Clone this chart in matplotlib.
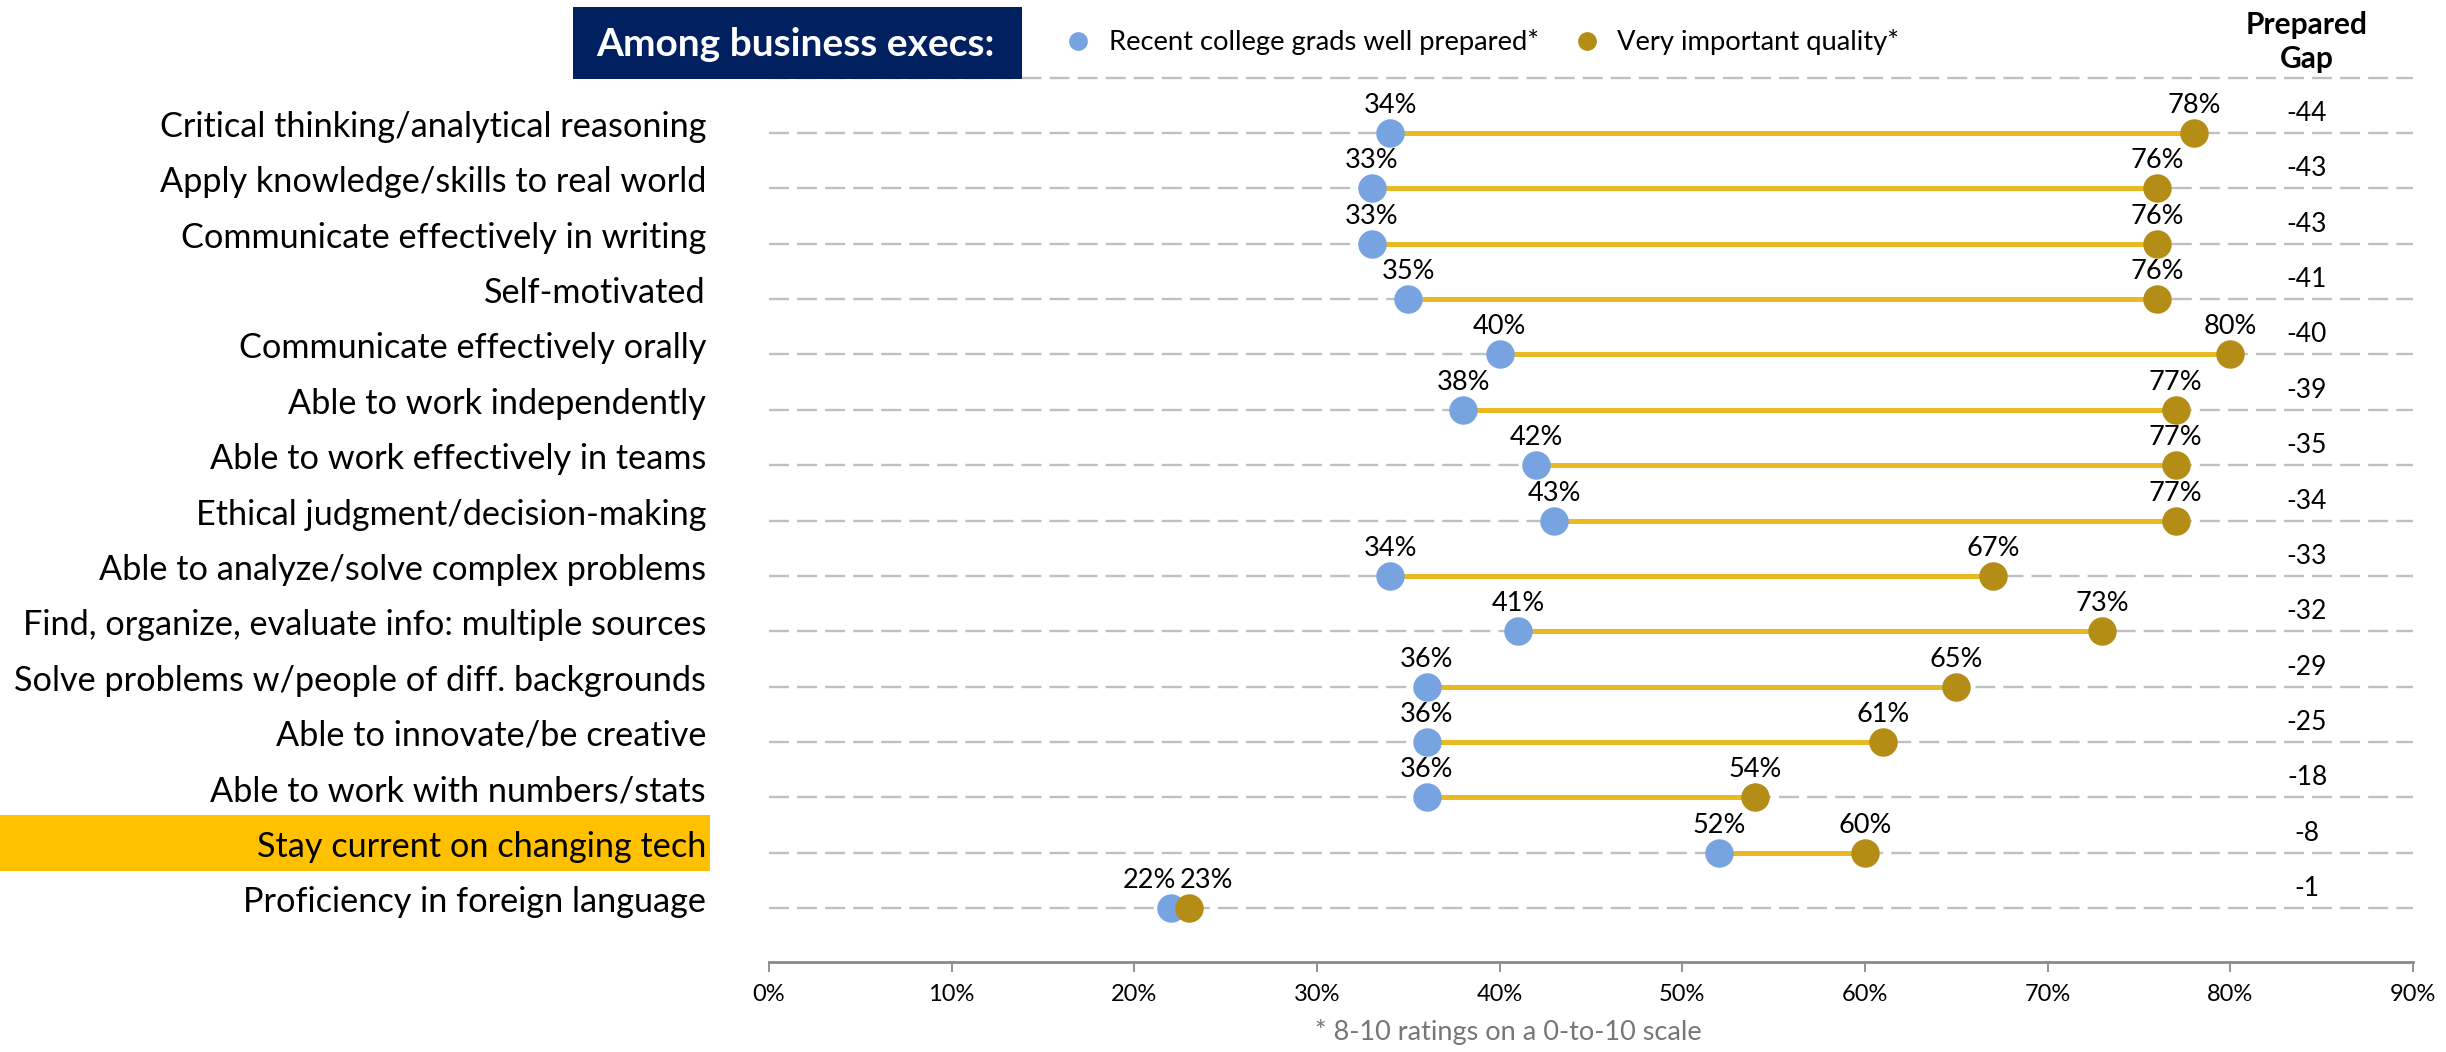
import matplotlib
matplotlib.use("Agg")
import matplotlib.pyplot as plt
from matplotlib.patches import Rectangle
from matplotlib.lines import Line2D
import matplotlib.transforms as mtrans

plt.rcParams['font.family'] = ['Lato', 'DejaVu Sans']
plt.rcParams['lines.scale_dashes'] = False

categories = [
    "Critical thinking/analytical reasoning",
    "Apply knowledge/skills to real world",
    "Communicate effectively in writing",
    "Self-motivated",
    "Communicate effectively orally",
    "Able to work independently",
    "Able to work effectively in teams",
    "Ethical judgment/decision-making",
    "Able to analyze/solve complex problems",
    "Find, organize, evaluate info: multiple sources",
    "Solve problems w/people of diff. backgrounds",
    "Able to innovate/be creative",
    "Able to work with numbers/stats",
    "Stay current on changing tech",
    "Proficiency in foreign language",
]
prepared = [34, 33, 33, 35, 40, 38, 42, 43, 34, 41, 36, 36, 36, 52, 22]
important = [78, 76, 76, 76, 80, 77, 77, 77, 67, 73, 65, 61, 54, 60, 23]
gap = [-44, -43, -43, -41, -40, -39, -35, -34, -33, -32, -29, -25, -18, -8, -1]
highlight = "Stay current on changing tech"
xticks = [0, 10, 20, 30, 40, 50, 60, 70, 80, 90]
xticklabels = ["0%", "10%", "20%", "30%", "40%", "50%", "60%", "70%", "80%", "90%"]

W, H = 2446, 1052
C_BLUE = '#77A3E0'
C_GOLD = '#B38D16'
C_LINE = '#E8B923'
C_GRID = '#C0C0C0'
C_NAVY = '#002060'
C_HIGH = '#FFC000'

fig = plt.figure(figsize=(W / 100, H / 100), dpi=100)
ROW = 55.36
y0px = 133
ax_top_px, ax_bot_px = 50, 962
ax = fig.add_axes([769 / W, 1 - ax_bot_px / H, (2413 - 769) / W, (ax_bot_px - ax_top_px) / H])
ax.set_xlim(0, 90)
ax.set_ylim((ax_bot_px - y0px) / ROW, (ax_top_px - y0px) / ROW)

def px(p):
    return p / ROW

# grid lines
for i in range(-1, len(categories)):
    ax.plot([0, 90], [i, i], color=C_GRID, lw=1.7, linestyle=(0, (14.4, 5.8)), zorder=1,
            solid_capstyle='butt', dash_capstyle='butt')

for i, (p, q, g) in enumerate(zip(prepared, important, gap)):
    ax.plot([p, q], [i, i], color=C_LINE, lw=3.6, zorder=2, solid_capstyle='butt')
    ax.plot([p], [i], 'o', color=C_BLUE, ms=20.5, mew=0, zorder=3, clip_on=False)
    ax.plot([q], [i], 'o', color=C_GOLD, ms=20.5, mew=0, zorder=4, clip_on=False)
    if abs(q - p) < 4:
        ax.text(p + 0.3, i - px(20), f"{p}%", ha='right', va='baseline', fontsize=19.5, zorder=5)
        ax.text(q - 0.5, i - px(20), f"{q}%", ha='left', va='baseline', fontsize=19.5, zorder=5)
    else:
        ax.text(p, i - px(20), f"{p}%", ha='center', va='baseline', fontsize=19.5, zorder=5)
        ax.text(q, i - px(20), f"{q}%", ha='center', va='baseline', fontsize=19.5, zorder=5)
    ax.text(84.2, i - px(12), f"{g}", ha='center', va='baseline', fontsize=19)

# category labels
btr = mtrans.blended_transform_factory(fig.transFigure, ax.transData)
for i, c in enumerate(categories):
    ax.text(706 / W, i + px(4), c, transform=btr, ha='right', va='baseline', fontsize=24.7,
            clip_on=False)
    if c == highlight:
        fig.add_artist(Rectangle((0, 1 - 871 / H), 710 / W, 56 / H, transform=fig.transFigure,
                                 facecolor=C_HIGH, edgecolor='none', zorder=0))

# title box
fig.add_artist(Rectangle((573 / W, 1 - 79 / H), (1022 - 573) / W, (79 - 7) / H,
                         transform=fig.transFigure, facecolor=C_NAVY, edgecolor='none', zorder=10))
fig.text(795 / W, 1 - 44 / H, "Among business execs:", color='white', fontsize=28,
         fontweight='bold', ha='center', va='center', zorder=11)

# legend
fig.add_artist(Line2D([1078 / W], [1 - 41 / H], marker='o', color=C_BLUE, ms=13.5, mew=0,
                      transform=fig.transFigure))
fig.text(1109 / W, 1 - 50 / H, "Recent college grads well prepared*", fontsize=19.7,
         ha='left', va='baseline')
fig.add_artist(Line2D([1587 / W], [1 - 41 / H], marker='o', color=C_GOLD, ms=13.5, mew=0,
                      transform=fig.transFigure))
fig.text(1617 / W, 1 - 50 / H, "Very important quality*", fontsize=19.7, ha='left', va='baseline')

# gap header
fig.text(2307 / W, 1 - 34 / H, "Prepared", fontsize=21.5, fontweight='bold', ha='center', va='baseline')
fig.text(2307 / W, 1 - 68 / H, "Gap", fontsize=21.5, fontweight='bold', ha='center', va='baseline')

# axes styling
for s in ['left', 'top', 'right']:
    ax.spines[s].set_visible(False)
ax.spines['bottom'].set_color('#898989')
ax.spines['bottom'].set_linewidth(2)
ax.set_yticks([])
ax.set_xticks(xticks)
ax.set_xticklabels(xticklabels, fontsize=17)
ax.tick_params(axis='x', direction='out', length=7.5, width=1.3, color='#898989', pad=8)

fig.text(1508 / W, 1 - 1040 / H, "* 8-10 ratings on a 0-to-10 scale", fontsize=19.5,
         color='#767676', ha='center', va='baseline')

fig.savefig("out.png", dpi=100)
